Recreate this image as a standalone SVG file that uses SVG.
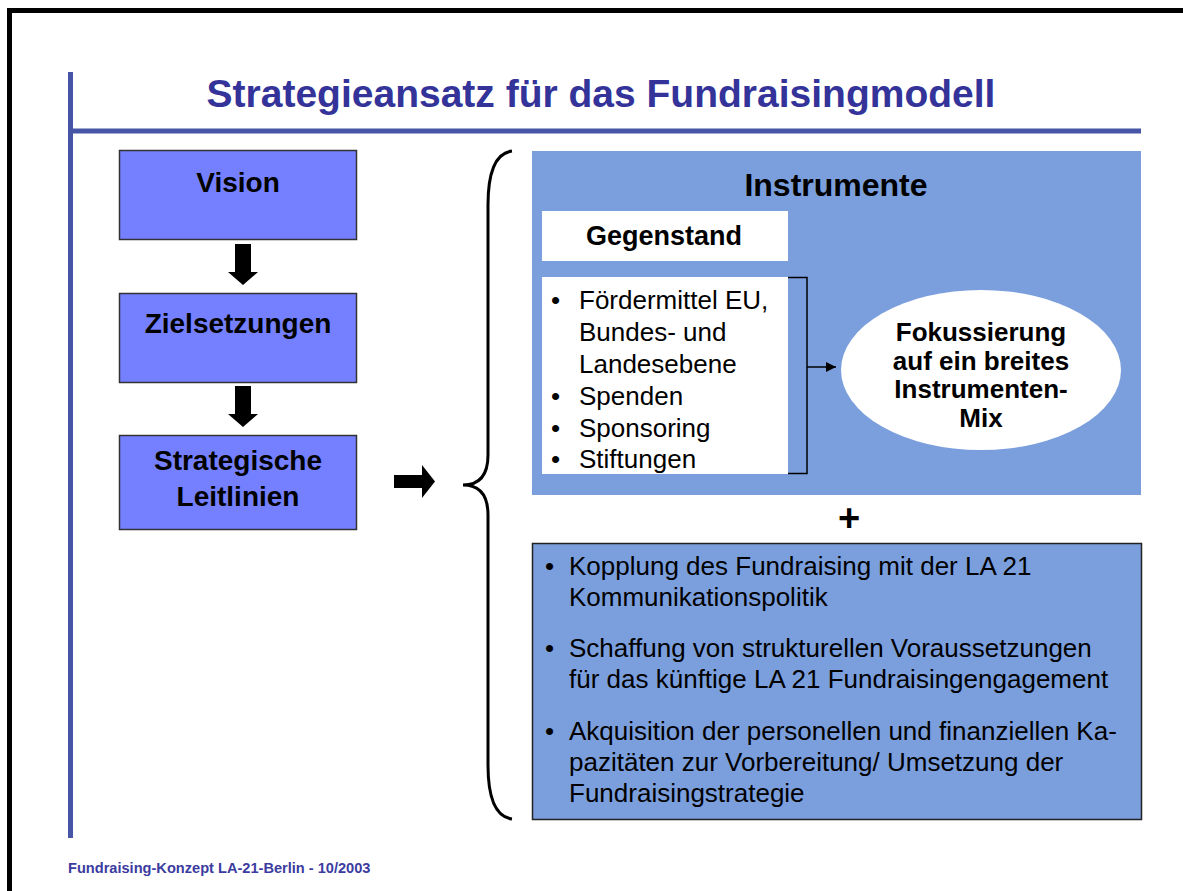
<svg xmlns="http://www.w3.org/2000/svg" width="1183" height="891" viewBox="0 0 1183 891">
<defs>
<style>
.t{font-family:"Liberation Sans",Arial,sans-serif;}
.b{font-weight:bold;}
.box{fill:#7480FF;stroke:#333;stroke-width:1.5;}
.lbl{font-size:28px;fill:#000;text-anchor:middle;font-weight:bold;}
.li{font-size:26px;fill:#000;}
.blk{fill:#000;}
</style>
<marker id="ah" viewBox="0 0 10 10" refX="10" refY="5" markerWidth="12" markerHeight="10" markerUnits="userSpaceOnUse" orient="auto">
<path d="M0,0 L10,5 L0,10 z" fill="#000"/>
</marker>
</defs>
<rect width="1183" height="891" fill="#fff"/>
<rect x="9.5" y="10.5" width="1200" height="1000" fill="none" stroke="#000" stroke-width="5"/>
<line x1="70.5" y1="72" x2="70.5" y2="838" stroke="#4655A5" stroke-width="5"/>
<line x1="68" y1="131" x2="1141" y2="131" stroke="#4655A5" stroke-width="5"/>
<text class="t b" x="601" y="107" font-size="39" fill="#333399" text-anchor="middle">Strategieansatz für das Fundraisingmodell</text>

<g id="vision">
<rect class="box" x="119.5" y="150.5" width="237" height="89"/>
<text class="t lbl" x="238" y="192">Vision</text>
</g>
<g id="zielsetzungen">
<rect class="box" x="119.5" y="293.5" width="237" height="89"/>
<text class="t lbl" x="238" y="333">Zielsetzungen</text>
</g>
<g id="leitlinien">
<rect class="box" x="119.5" y="435.5" width="237" height="94"/>
<text class="t lbl" x="238" y="470">Strategische</text>
<text class="t lbl" x="238" y="506">Leitlinien</text>
</g>

<g id="instrumente">
<rect x="532" y="151" width="609" height="344" fill="#7B9FDD"/>
<text class="t b" x="836" y="196" font-size="32" text-anchor="middle">Instrumente</text>
</g>
<g id="gegenstand">
<rect x="542" y="211" width="246" height="50" fill="#fff"/>
<text class="t b" x="664" y="245" font-size="27" text-anchor="middle">Gegenstand</text>
</g>
<g id="liste">
<rect x="542" y="277" width="246" height="197" fill="#fff"/>
<g class="t li">
<text x="551" y="309">•</text><text x="579" y="309">Fördermittel EU,</text>
<text x="579" y="341">Bundes- und</text>
<text x="579" y="373">Landesebene</text>
<text x="551" y="405">•</text><text x="579" y="405">Spenden</text>
<text x="551" y="437">•</text><text x="579" y="437">Sponsoring</text>
<text x="551" y="468">•</text><text x="579" y="468">Stiftungen</text>
</g>
</g>
<g id="fokus">
<ellipse cx="981" cy="370" rx="140" ry="80" fill="#fff"/>
<g class="t b" font-size="26" text-anchor="middle">
<text x="981" y="341">Fokussierung</text>
<text x="981" y="370">auf ein breites</text>
<text x="981" y="398">Instrumenten-</text>
<text x="981" y="427">Mix</text>
</g>
</g>
<g id="plus">
<text class="t b" x="849" y="531" font-size="38" text-anchor="middle">+</text>
</g>
<g id="massnahmen">
<rect x="532.5" y="543.5" width="609" height="276" fill="#7B9FDD" stroke="#222" stroke-width="1.5"/>
<g class="t li">
<text x="545" y="575">•</text><text x="569" y="575">Kopplung des Fundraising mit der LA 21</text>
<text x="569" y="606">Kommunikationspolitik</text>
<text x="545" y="657">•</text><text x="569" y="657">Schaffung von strukturellen Voraussetzungen</text>
<text x="569" y="688">für das künftige LA 21 Fundraisingengagement</text>
<text x="545" y="740">•</text><text x="569" y="740">Akquisition der personellen und finanziellen Ka-</text>
<text x="569" y="771">pazitäten zur Vorbereitung/ Umsetzung der</text>
<text x="569" y="802">Fundraisingstrategie</text>
</g>
</g>

<g id="connectors">
<path class="blk" d="M235,244 H251 V272 H258 L243,285 L228,272 H235 Z"/>
<path class="blk" d="M235,386 H251 V414 H258 L243,427 L228,414 H235 Z"/>
<path class="blk" d="M394,475 H422 V465 L435,481.5 L422,498 V488 H394 Z"/>
<path d="M512,151 C496,153 488,170 488,205 L488,455 C488,475 480,485 463,485 C480,485 488,495 488,515 L488,765 C488,800 496,817 512,819" fill="none" stroke="#000" stroke-width="3"/>
<path d="M788,277.5 H807 V473.5 H788" fill="none" stroke="#000" stroke-width="1.5"/>
<line x1="807" y1="367" x2="836" y2="367" stroke="#000" stroke-width="1.5" marker-end="url(#ah)"/>
</g>

<text class="t b" x="68" y="873" font-size="14.6" fill="#3C3CA0">Fundraising-Konzept LA-21-Berlin - 10/2003</text>
</svg>
